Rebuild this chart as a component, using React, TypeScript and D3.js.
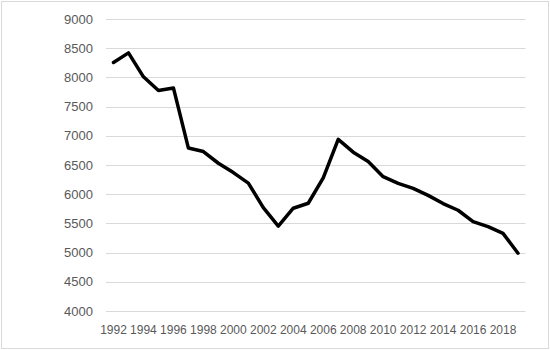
import React from 'react';
import * as d3 from 'd3';

const years = d3.range(1992, 2020).map(String);
const values = [
  8255, 8420, 8010, 7775, 7820, 6790, 6730, 6530, 6370, 6190,
  5770, 5455, 5760, 5845, 6280, 6940, 6720, 6560, 6300, 6185,
  6100, 5980, 5840, 5725, 5530, 5445, 5330, 4990,
];
const yTicks = [4000, 4500, 5000, 5500, 6000, 6500, 7000, 7500, 8000, 8500, 9000];
const xLabels = years.filter((y, i) => i % 2 === 0);

const W = 550;
const H = 350;
const font = '"Liberation Sans", Arial, sans-serif';

export default function App() {
  const x = d3.scaleBand().domain(years).range([106, 525.5]);
  const y = d3.scaleLinear().domain([4000, 9000]).range([311, 19]);

  const line = d3.line<number>()
    .x((d, i) => x(years[i])! + x.bandwidth() / 2)
    .y(d => y(d));

  return (
    <svg width={W} height={H} style={{ position: 'absolute', left: 0, top: 0, background: '#fff' }}>
      <rect x={1.5} y={1.5} width={W - 3} height={H - 3} fill="#fff" stroke="#d9d9d9" strokeWidth={1} />
      {yTicks.map(t => (
        <g key={t}>
          <line x1={106} x2={525.5} y1={Math.round(y(t)) + 0.5} y2={Math.round(y(t)) + 0.5} stroke="#d9d9d9" strokeWidth={1} />
          <text x={93} y={y(t)} dy="0.35em" textAnchor="end" fontFamily={font} fontSize={13} fill="#595959">{t}</text>
        </g>
      ))}
      {xLabels.map(l => (
        <text key={l} x={x(l)! + x.bandwidth() / 2} y={334} textAnchor="middle" fontFamily={font} fontSize={12} fill="#595959">{l}</text>
      ))}
      <path d={line(values) || ''} fill="none" stroke="#000" strokeWidth={3.5} strokeLinejoin="round" strokeLinecap="round" />
    </svg>
  );
}
